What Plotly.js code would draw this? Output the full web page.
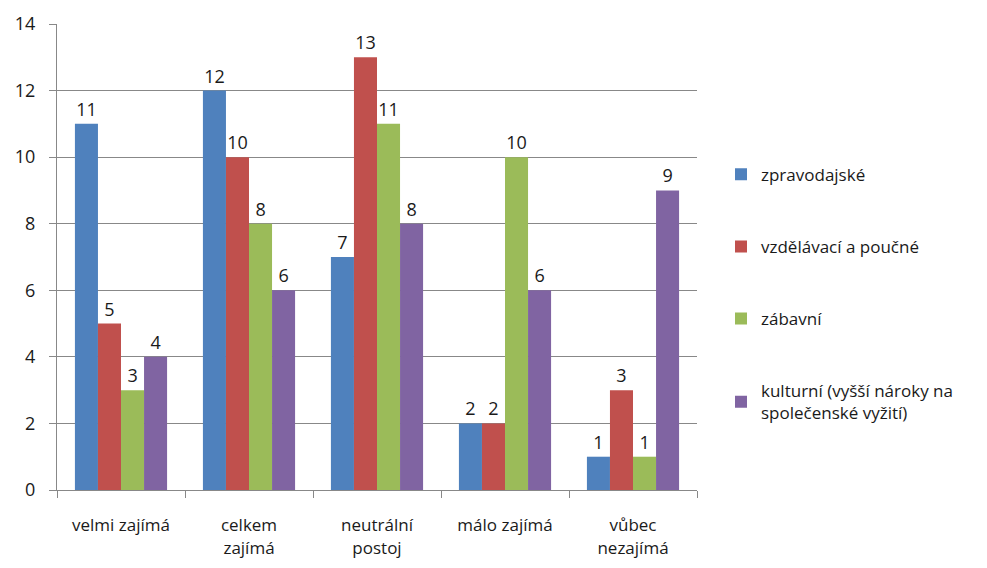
<!DOCTYPE html>
<html>
<head>
<meta charset="utf-8">
<script src="https://cdn.plot.ly/plotly-3.0.1.min.js"></script>
<style>body{margin:0;padding:0;background:#fff;}#chart{width:987px;height:568px;}</style>
</head>
<body>
<div id="chart"></div>
<script>
const categories = ["velmi zajímá", "celkem<br>zajímá", "neutrální<br>postoj", "málo zajímá", "vůbec<br>nezajímá"];
const seriesNames = ["zpravodajské", "vzdělávací a poučné", "zábavní", "kulturní (vyšší nároky na<br>společenské vyžití)"];
const zpravodajske = [11, 12, 7, 2, 1];
const vzdelavaci = [5, 10, 13, 2, 3];
const zabavni = [3, 8, 11, 10, 1];
const kulturni = [4, 6, 8, 6, 9];
const colors = ["#4F81BD", "#C0504D", "#9BBB59", "#8064A2"];

const allValues = [zpravodajske, vzdelavaci, zabavni, kulturni];
const fontFam = "Open Sans, Liberation Sans, sans-serif";
const txtColor = "#1a1a1a";
const traces = allValues.map((vals, i) => ({
  type: "bar",
  name: seriesNames[i],
  x: categories,
  y: vals,
  text: vals.map(String),
  textposition: "outside",
  cliponaxis: false,
  textfont: {family: fontFam, size: 18, color: txtColor},
  marker: {color: colors[i], line: {width: 0}},
  legendgroup: "g" + i
}));

const layout = {
  width: 987, height: 568,
  margin: {l: 57, r: 290, t: 24, b: 78},
  paper_bgcolor: "#fff", plot_bgcolor: "#fff",
  barmode: "group",
  bargap: 0.28,
  bargroupgap: 0,
  font: {family: fontFam, size: 18, color: txtColor},
  xaxis: {
    type: "category",
    tickson: "boundaries",
    ticks: "outside", ticklen: 7, tickcolor: "#888",
    showline: true, linecolor: "#888", linewidth: 1,
    showgrid: false,
    ticklabelstandoff: 20,
    tickfont: {family: fontFam, size: 17, color: txtColor}
  },
  yaxis: {
    range: [0, 14], dtick: 2,
    ticks: "outside", ticklen: 7, tickcolor: "#888",
    showline: true, linecolor: "#888", linewidth: 1,
    showgrid: true, gridcolor: "#888", gridwidth: 1,
    zeroline: false,
    ticklabelstandoff: 10,
    tickfont: {family: fontFam, size: 18, color: txtColor}
  },
  legend: {
    x: 1.0375, xanchor: "left", y: 0.715, yanchor: "top",
    font: {family: fontFam, size: 17, color: txtColor},
    tracegroupgap: 47,
    traceorder: "grouped",
    itemwidth: 30
  },
  showlegend: true
};

Plotly.newPlot("chart", traces, layout, {displayModeBar: false, staticPlot: true});
</script>
</body>
</html>
